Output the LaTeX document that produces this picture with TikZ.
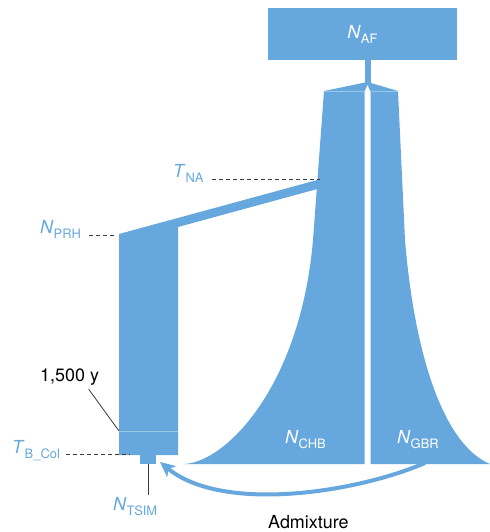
\documentclass[tikz,border=0pt]{standalone}
\usepackage{fontspec}
\setmainfont{TeX Gyre Heros}
\usepackage{xcolor}
\usetikzlibrary{arrows.meta,positioning,calc}
\definecolor{popcol}{HTML}{66A8DE}
\definecolor{guidecol}{HTML}{3A3A3A}
\newcommand{\popsym}[2]{\textit{#1}\raisebox{-5bp}{\fontsize{13}{13}\selectfont #2}}

\begin{document}
\begin{tikzpicture}[x=1bp,y=-1bp,font=\fontsize{18}{20}\selectfont,
  pop/.style={fill=popcol,draw=none},
  poplab/.style={text=white,inner sep=0pt},
  parlab/.style={text=popcol,inner sep=0pt},
  guide/.style={draw=guidecol,line width=0.8bp,dash pattern=on 4bp off 3bp},
  tick/.style={draw=guidecol,line width=0.8bp},
  seam/.style={draw=white,opacity=0.35,line width=0.8bp},
]
\useasboundingbox (0,0) rectangle (490,532);

% ancestral population and its stem
\node[pop,minimum width=189bp,minimum height=52bp,text=white] (naf) at (362.5,34) {\popsym{N}{AF}};
\fill[popcol] (365,60) rectangle (371,86);

% CHB and GBR, split by a white gap
\fill[popcol] (324,91) -- (367.5,82) -- (398,91) -- (405,240)
  .. controls (415,360) and (445,445) .. (490,464)
  -- (183,464) .. controls (223,464) and (300,390) .. (313,240) -- cycle;
\fill[white] (364.5,465) -- (364.5,92) -- (367.5,85) -- (370.5,92) -- (370.5,465) -- cycle;
\draw[seam] (324,91) -- (364.5,91) (370.5,91) -- (398,91);

% PRH with the migration band
\fill[popcol] (119,234) -- (321,179) -- (321,188) -- (178,227) -- (178,455) -- (119,455) -- cycle;
\draw[seam] (119,431) -- (178,431);
\node[pop,minimum width=16bp,minimum height=9bp,inner sep=0pt] (tsim) at (148,459.5) {};

% labels
\node[poplab,anchor=base west] (nchb) at (285,443) {\popsym{N}{CHB}};
\node[poplab,anchor=base west] (ngbr) at (397,443) {\popsym{N}{GBR}};
\node[parlab,anchor=base west] (tna) at (173,178) {\popsym{T}{NA}};
\node[parlab,anchor=base west] (nprh) at (40,233) {\popsym{N}{PRH}};
\node[parlab,anchor=base west] (tbcol) at (12,453) {\popsym{T}{B\_Col}};
\node[parlab,anchor=base west] (ntsim) at (113,510) {\popsym{N}{TSIM}};
\node[anchor=base west,inner sep=0pt] (split) at (40,381) {1,500 y};
\node[anchor=base west,inner sep=0pt] (admix) at (268,528) {Admixture};

% leader lines
\coordinate (tnaend) at (320,179);
\coordinate (nprhend) at (116,235);
\coordinate (tbcolend) at (130,454);
\coordinate (splitend) at (119,431);
\draw[guide] ($(tna.east |- tnaend)+(8,0)$) -- (tnaend);
\draw[guide] ($(nprh.east |- nprhend)+(8,0)$) -- (nprhend);
\draw[guide] ($(tbcol.east |- tbcolend)+(6,0)$) -- (tbcolend);
\draw[tick] ($(split.south)+(19,4)$) -- (splitend);
\draw[tick] (tsim.south) -- ($(tsim.south |- ntsim.north)+(0,-2)$);

% admixture
\coordinate (admixstart) at (425,463);
\coordinate (admixend) at (160,462);
\draw[popcol,line width=4bp,-{Stealth[length=15bp,width=14bp,inset=4bp]}]
  (admixstart) .. controls (355,493) and (222,513) .. (admixend);
\end{tikzpicture}
\end{document}
